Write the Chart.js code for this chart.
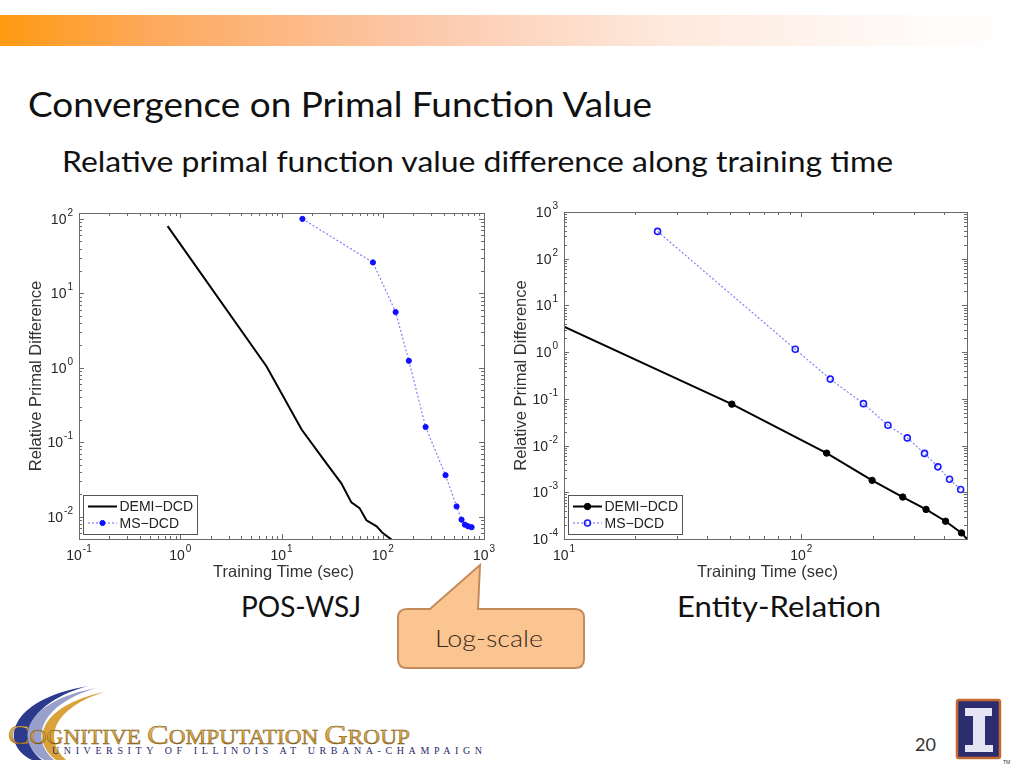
<!DOCTYPE html>
<html lang="en">
<head>
<meta charset="UTF-8">
<title>Convergence on Primal Function Value</title>
<script src="https://cdn.jsdelivr.net/npm/chart.js"></script>
<style>
    body {
        margin: 0;
        background: #fff;
    }
    #slide {
        position: relative;
        width: 1024px;
        height: 768px;
        overflow: hidden;
    }
    #deco {
        position: absolute;
        left: 0;
        top: 0;
    }
    .chart-box {
        position: absolute;
    }
    .chart-box canvas {
        display: block;
    }
</style>
</head>
<body>
<div id="slide">
    <svg id="deco" width="1024" height="768" xmlns="http://www.w3.org/2000/svg">
        <defs>
            <linearGradient id="bar" x1="0" y1="0" x2="1" y2="0">
                <stop offset="0" stop-color="#ff9a12"/>
                <stop offset="0.15" stop-color="#fda95e"/>
                <stop offset="0.4" stop-color="#fcc7a8"/>
                <stop offset="0.65" stop-color="#fee9dd"/>
                <stop offset="0.9" stop-color="#fffbf8"/>
                <stop offset="1" stop-color="#ffffff"/>
            </linearGradient>
            <linearGradient id="gold" x1="0" y1="0" x2="0" y2="1">
                <stop offset="0" stop-color="#f6d27a"/>
                <stop offset="0.6" stop-color="#d9a23a"/>
                <stop offset="1" stop-color="#a8701c"/>
            </linearGradient>
        </defs>

        <!-- header bar -->
        <rect x="0" y="15" width="1024" height="31" fill="url(#bar)"/>

        <!-- titles -->
        <text x="28" y="117" font-family="Lato, 'Open Sans', sans-serif" font-size="34" fill="#111"
              textLength="624" lengthAdjust="spacingAndGlyphs">Convergence on Primal Function Value</text>
        <text x="62" y="172" font-family="Lato, 'Open Sans', sans-serif" font-size="28" fill="#111"
              textLength="831" lengthAdjust="spacingAndGlyphs">Relative primal function value difference along training time</text>

        <!-- chart captions -->
        <text x="241" y="617" font-family="Lato, 'Open Sans', sans-serif" font-size="28" fill="#111"
              textLength="120" lengthAdjust="spacingAndGlyphs">POS-WSJ</text>
        <text x="677" y="617" font-family="Lato, 'Open Sans', sans-serif" font-size="28" fill="#111"
              textLength="204" lengthAdjust="spacingAndGlyphs">Entity-Relation</text>

        <!-- callout -->
        <path d="M 407 609 L 430 609 L 480 565 L 478 609 L 575 609 Q 584 609 584 618 L 584 659 Q 584 668 575 668 L 407 668 Q 398 668 398 659 L 398 618 Q 398 609 407 609 Z"
              fill="#fbc592" stroke="#c58a5c" stroke-width="2"/>
        <text x="435" y="647" font-family="Lato, 'Open Sans', sans-serif" font-weight="300" font-size="24" fill="#3a2a1a"
              textLength="108" lengthAdjust="spacingAndGlyphs">Log-scale</text>

        <!-- group logo -->
        <path d="M 32 760 C 0 745, 6 700, 88 686 C 30 702, 14 738, 42 760 Z" fill="#2c3a8e"/>
        <path d="M 44 760 C 14 742, 22 702, 96 688 C 42 704, 28 738, 54 760 Z" fill="#9aa0cc"/>
        <path d="M 56 760 C 30 740, 40 706, 104 692 C 54 708, 42 738, 66 760 Z" fill="#d9a23a"/>
        <text x="8" y="744" font-family="'Liberation Serif', 'DejaVu Serif', serif" fill="url(#gold)"
              stroke="#6a4a10" stroke-width="0.4" textLength="402" lengthAdjust="spacingAndGlyphs"><tspan font-size="28">C</tspan><tspan font-size="20">OGNITIVE </tspan><tspan font-size="28">C</tspan><tspan font-size="20">OMPUTATION </tspan><tspan font-size="28">G</tspan><tspan font-size="20">ROUP</tspan></text>
        <text x="52" y="754" font-family="'Liberation Serif', 'DejaVu Serif', serif" font-size="10" fill="#1f2a6b"
              textLength="430" lengthAdjust="spacing">UNIVERSITY OF ILLINOIS AT URBANA-CHAMPAIGN</text>

        <!-- page number -->
        <text x="915" y="751" font-family="Lato, 'Open Sans', sans-serif" font-size="18" fill="#333">20</text>

        <!-- university mark -->
        <rect x="957" y="700" width="43" height="58" rx="2" fill="#2b2d6e" stroke="#c66a32" stroke-width="2.5"/>
        <path d="M 965 708 L 992 708 L 992 716 L 985 716 L 985 745 L 993 745 L 993 752 L 965 752 L 965 745 L 973 745 L 973 716 L 965 716 Z"
              fill="#e4e4f4"/>
        <text x="1003" y="764" font-family="'Liberation Sans', sans-serif" font-size="5" fill="#333">TM</text>
    </svg>

    <div class="chart-box" style="left:20px;top:200px;width:480px;height:390px">
        <canvas id="posChart" width="480" height="390"></canvas>
    </div>
    <div class="chart-box" style="left:505px;top:195px;width:480px;height:395px">
        <canvas id="erChart" width="480" height="395"></canvas>
    </div>
</div>

<script>
    // POS-WSJ (left plot)
    const posDemiTime = [0.75, 7.1, 15.8, 27.8, 39, 49, 59, 69, 87, 100, 125];
    const posDemiDiff = [80, 1.05, 0.148, 0.052, 0.028, 0.0155, 0.013, 0.0089, 0.0074, 0.006, 0.0048];
    const posMsTime = [16.1, 80, 134, 181, 265, 417, 536, 600, 647, 698, 754];
    const posMsDiff = [100, 26, 5.6, 1.24, 0.16, 0.036, 0.0137, 0.0091, 0.0078, 0.0074, 0.0072];

    // Entity-Relation (right plot)
    const erDemiTime = [10, 51, 128, 199, 268, 336, 406, 474, 500];
    const erDemiDiff = [3.5, 0.077, 0.0069, 0.0018, 0.00079, 0.00043, 0.00024, 0.000135, 0.0001];
    const erMsTime = [24.8, 94.4, 132.6, 183, 232, 280, 331, 377, 422, 470];
    const erMsDiff = [384, 1.15, 0.265, 0.079, 0.0273, 0.0146, 0.0068, 0.0035, 0.0019, 0.00115];

    // tick labels, as powers of ten
    const posXExp = [-1, 0, 1, 2, 3];
    const posYExp = [-2, -1, 0, 1, 2];
    const erXExp = [1, 2];
    const erYExp = [-4, -3, -2, -1, 0, 1, 2, 3];

    const seriesNames = ['DEMI\u2212DCD', 'MS\u2212DCD'];
    const xTitle = 'Training Time (sec)';
    const yTitle = 'Relative Primal Difference';

    const labelFont = '"Liberation Sans", Arial, sans-serif';

    function toPoints(xs, ys) {
        return xs.map((x, i) => ({ x: x, y: ys[i] }));
    }

    // draws 10^e the way matlab does
    function drawPow(ctx, exp, x, y, align) {
        const es = String(exp);
        ctx.font = '14px ' + labelFont;
        const wb = ctx.measureText('10').width;
        ctx.font = '10px ' + labelFont;
        const we = ctx.measureText(es).width;
        const x0 = align === 'right' ? x - wb - we - 1 : x - (wb + we + 1) / 2;
        ctx.textAlign = 'left';
        ctx.textBaseline = 'alphabetic';
        ctx.font = '14px ' + labelFont;
        ctx.fillText('10', x0, y);
        ctx.font = '10px ' + labelFont;
        ctx.fillText(es, x0 + wb + 1, y - 8);
    }

    function line(ctx, x1, y1, x2, y2) {
        ctx.beginPath();
        ctx.moveTo(x1, y1);
        ctx.lineTo(x2, y2);
        ctx.stroke();
    }

    // box, inward ticks, labels, titles and legend
    const matlabAxes = {
        id: 'matlabAxes',
        afterDatasetsDraw(chart, args, opts) {
            const ctx = chart.ctx;
            const a = chart.chartArea;
            const xs = chart.scales.x;
            const ys = chart.scales.y;
            ctx.save();
            ctx.strokeStyle = '#6a6a6a';
            ctx.lineWidth = 1;

            // minor + major ticks on all four sides
            const tickLen = 4;
            [[xs, true], [ys, false]].forEach(([s, horiz]) => {
                const e0 = Math.floor(Math.log10(s.min));
                const e1 = Math.ceil(Math.log10(s.max));
                for (let e = e0; e <= e1; e++) {
                    for (let m = 1; m <= 9; m++) {
                        const v = m * Math.pow(10, e);
                        if (v < s.min * 0.999 || v > s.max * 1.001) continue;
                        const p = Math.round(s.getPixelForValue(v)) + 0.5;
                        const len = m === 1 ? tickLen + 1 : tickLen - 1;
                        if (horiz) {
                            line(ctx, p, a.bottom, p, a.bottom - len);
                            line(ctx, p, a.top, p, a.top + len);
                        } else {
                            line(ctx, a.left, p, a.left + len, p);
                            line(ctx, a.right, p, a.right - len, p);
                        }
                    }
                }
            });

            // frame
            const l = Math.round(a.left) + 0.5, r = Math.round(a.right) + 0.5;
            const t = Math.round(a.top) + 0.5, b = Math.round(a.bottom) + 0.5;
            ctx.strokeRect(l, t, r - l, b - t);

            // tick labels
            ctx.fillStyle = '#262626';
            opts.xExp.forEach(e => drawPow(ctx, e, xs.getPixelForValue(Math.pow(10, e)), a.bottom + 21, 'center'));
            opts.yExp.forEach(e => drawPow(ctx, e, a.left - 6, ys.getPixelForValue(Math.pow(10, e)) + 5, 'right'));

            // axis titles
            ctx.fillStyle = '#333';
            ctx.font = '16.5px ' + labelFont;
            ctx.textAlign = 'center';
            ctx.textBaseline = 'alphabetic';
            ctx.fillText(xTitle, (a.left + a.right) / 2 + 2, a.bottom + 38);
            ctx.save();
            ctx.translate(16, (a.top + a.bottom) / 2);
            ctx.rotate(-Math.PI / 2);
            ctx.textBaseline = 'middle';
            ctx.fillText(yTitle, 0, 0);
            ctx.restore();

            // legend inside lower left corner
            const bx = a.left + 4, by = a.bottom - 44, bw = 114, bh = 39;
            ctx.fillStyle = '#fff';
            ctx.fillRect(bx, by, bw, bh);
            ctx.strokeStyle = '#555';
            ctx.strokeRect(Math.round(bx) + 0.5, Math.round(by) + 0.5, bw, bh);
            chart.data.datasets.forEach((ds, i) => {
                const yy = by + 11.5 + i * 16.5;
                ctx.save();
                ctx.strokeStyle = ds.borderColor;
                ctx.lineWidth = ds.borderWidth;
                ctx.setLineDash(ds.borderDash || []);
                line(ctx, bx + 5, yy, bx + 34, yy);
                ctx.restore();
                const rad = Array.isArray(ds.pointRadius) ? Math.max(...ds.pointRadius) : ds.pointRadius;
                if (rad > 0) {
                    ctx.beginPath();
                    ctx.arc(bx + 19.5, yy, rad, 0, Math.PI * 2);
                    ctx.fillStyle = ds.pointBackgroundColor;
                    ctx.fill();
                    ctx.lineWidth = ds.pointBorderWidth;
                    ctx.strokeStyle = ds.pointBorderColor;
                    ctx.stroke();
                }
                ctx.fillStyle = '#222';
                ctx.font = '14px ' + labelFont;
                ctx.textAlign = 'left';
                ctx.textBaseline = 'middle';
                ctx.fillText(ds.label, bx + 36.5, yy + 1);
            });
            ctx.restore();
        }
    };

    function makeChart(id, cfg) {
        return new Chart(document.getElementById(id), {
            type: 'scatter',
            data: { datasets: cfg.datasets },
            options: {
                responsive: false,
                animation: false,
                layout: { padding: { top: cfg.padTop, right: cfg.padRight, left: 0, bottom: 0 } },
                plugins: {
                    legend: { display: false },
                    tooltip: { enabled: false },
                    matlabAxes: { xExp: cfg.xExp, yExp: cfg.yExp }
                },
                scales: {
                    x: {
                        type: 'logarithmic',
                        min: cfg.xMin,
                        max: cfg.xMax,
                        grid: { display: false },
                        border: { display: false },
                        ticks: { display: false },
                        afterFit: s => { s.height = cfg.xAxisH; }
                    },
                    y: {
                        type: 'logarithmic',
                        min: cfg.yMin,
                        max: cfg.yMax,
                        grid: { display: false },
                        border: { display: false },
                        ticks: { display: false },
                        afterFit: s => { s.width = 59; }
                    }
                }
            },
            plugins: [matlabAxes]
        });
    }

    makeChart('posChart', {
        xMin: 0.1, xMax: 1000, yMin: 0.005, yMax: 120,
        padTop: 13, padRight: 16, xAxisH: 51,
        xExp: posXExp, yExp: posYExp,
        datasets: [
            {
                label: seriesNames[0],
                data: toPoints(posDemiTime, posDemiDiff),
                showLine: true,
                borderColor: '#000',
                borderWidth: 2,
                pointRadius: 0
            },
            {
                label: seriesNames[1],
                data: toPoints(posMsTime, posMsDiff),
                showLine: true,
                borderColor: 'rgba(60, 60, 255, 0.65)',
                borderWidth: 1.2,
                borderDash: [2, 2],
                pointRadius: 2.6,
                pointBackgroundColor: '#1010ff',
                pointBorderColor: '#1010ff',
                pointBorderWidth: 1
            }
        ]
    });

    makeChart('erChart', {
        xMin: 10, xMax: 500, yMin: 0.0001, yMax: 1000,
        padTop: 17, padRight: 18, xAxisH: 51,
        xExp: erXExp, yExp: erYExp,
        datasets: [
            {
                label: seriesNames[0],
                data: toPoints(erDemiTime, erDemiDiff),
                showLine: true,
                borderColor: '#000',
                borderWidth: 2,
                pointRadius: erDemiTime.map((t, i) => (i === 0 || i === erDemiTime.length - 1) ? 0 : 3.2),
                pointBackgroundColor: '#000',
                pointBorderColor: '#000',
                pointBorderWidth: 1
            },
            {
                label: seriesNames[1],
                data: toPoints(erMsTime, erMsDiff),
                showLine: true,
                borderColor: 'rgba(60, 60, 255, 0.65)',
                borderWidth: 1.2,
                borderDash: [2, 2],
                pointRadius: 3,
                pointBackgroundColor: 'rgba(255, 255, 255, 0)',
                pointBorderColor: '#1a1aff',
                pointBorderWidth: 1.6
            }
        ]
    });
</script>
</body>
</html>
